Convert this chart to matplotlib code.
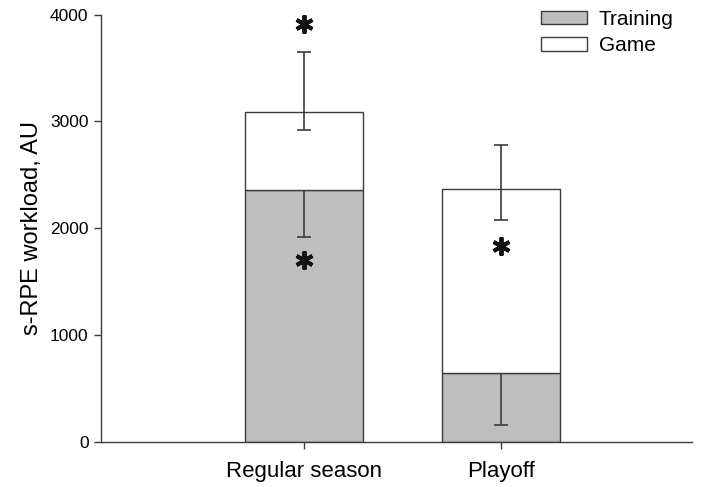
import matplotlib
matplotlib.use("Agg")
import matplotlib.pyplot as plt
from matplotlib.patches import Patch

plt.rcParams['font.family'] = ['Liberation Sans', 'DejaVu Sans']

categories = ['Regular season', 'Playoff']
training = [2360, 650]
game = [725, 1715]
training_err_low = [440, 490]
game_err_low = [165, 290]
game_err_high = [565, 410]
star_x = [0, 0, 1]
star_y = [3910, 1705, 1830]
yticks = [0, 1000, 2000, 3000, 4000]

edge = '#3c3c3c'
fig = plt.figure(figsize=(7.04, 4.87), dpi=100)
ax = fig.add_axes([0.1435, 0.0924, 0.983 - 0.1435, 0.97 - 0.0924])

x = list(range(len(categories)))
totals = [t + g for t, g in zip(training, game)]
ax.bar(x, training, width=0.6, color='#bebebe', edgecolor=edge, linewidth=1.0, label='Training', zorder=2)
ax.bar(x, game, width=0.6, bottom=training, color='white', edgecolor=edge, linewidth=1.0, label='Game', zorder=2)

eb = ax.errorbar(x, training, yerr=[training_err_low, [0] * len(x)], fmt='none', ecolor=edge,
                 elinewidth=1.2, capsize=4.7, capthick=1.2, zorder=3)
# only the lower whisker for training
eb[1][1].set_visible(False)
ax.errorbar(x, totals, yerr=[game_err_low, game_err_high], fmt='none', ecolor=edge,
            elinewidth=1.2, capsize=4.7, capthick=1.2, zorder=3)

ax.plot(star_x, star_y, linestyle='none', marker=(6, 2, 0), markersize=13,
        markeredgewidth=2.8, color='#111111', zorder=4)

ax.set_xlim(-1.03, 1.97)
ax.set_ylim(0, 4000)
ax.set_xticks(x)
ax.set_xticklabels(categories, fontsize=16)
ax.set_yticks(yticks)
ax.set_yticklabels([str(v) for v in yticks], fontsize=12.5)
ax.set_ylabel('s-RPE workload, AU', fontsize=17, labelpad=5)

for s in ['top', 'right']:
    ax.spines[s].set_visible(False)
for s in ['left', 'bottom']:
    ax.spines[s].set_color(edge)
    ax.spines[s].set_linewidth(1.0)
ax.tick_params(axis='both', direction='out', length=5, width=1.0, color=edge)
ax.tick_params(axis='x', pad=9)
ax.tick_params(axis='y', pad=4)

handles = [Patch(facecolor='#bebebe', edgecolor=edge, linewidth=1.0, label='Training'),
           Patch(facecolor='white', edgecolor=edge, linewidth=1.0, label='Game')]
ax.legend(handles=handles, loc='upper right', bbox_to_anchor=(0.99, 1.04), frameon=False,
          fontsize=15, handlelength=2.2, handleheight=0.6, handletextpad=0.55, labelspacing=0.35,
          borderaxespad=0.2)

fig.savefig('out.png', dpi=100)
